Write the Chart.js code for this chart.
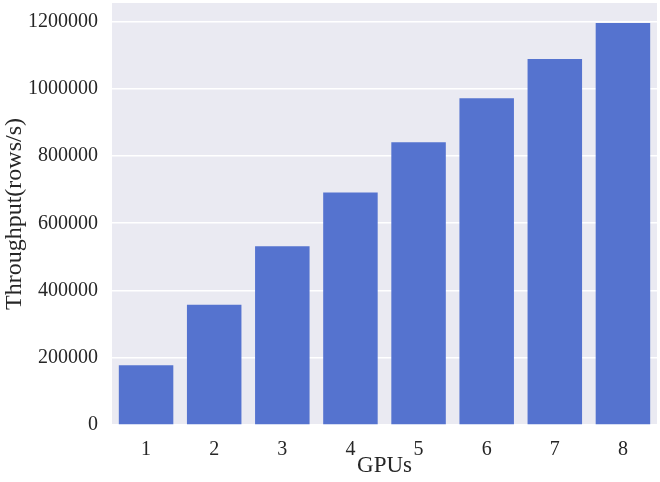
<!DOCTYPE html>
<html>
<head>
<meta charset="utf-8">
<script src="https://cdn.jsdelivr.net/npm/chart.js@4"></script>
<style>
  html, body { margin: 0; padding: 0; background: #fff; }
  #wrap { width: 660px; height: 482px; }
</style>
</head>
<body>
<div id="wrap"><canvas id="c" width="660" height="482"></canvas></div>
<script>
// data
const gpus = ["1", "2", "3", "4", "5", "6", "7", "8"];
const throughput = [178000, 357500, 532000, 691500, 841000, 972000, 1088500, 1195500];
const yTicks = [0, 200000, 400000, 600000, 800000, 1000000, 1200000];

const FONT = "'Liberation Serif', 'DejaVu Serif', serif";

// paint the seaborn grey panel behind the bars
const panelBg = {
  id: "panelBg",
  beforeDraw(chart) {
    const { ctx, chartArea: a } = chart;
    ctx.save();
    ctx.fillStyle = "#EAEAF2";
    ctx.fillRect(a.left, a.top, a.right - a.left, a.bottom - a.top);
    ctx.restore();
  }
};

new Chart(document.getElementById("c"), {
  type: "bar",
  data: {
    labels: gpus,
    datasets: [{
      data: throughput,
      backgroundColor: "#5573CF",
      borderWidth: 0,
      barPercentage: 0.8,
      categoryPercentage: 1.0
    }]
  },
  options: {
    responsive: false,
    animation: false,
    layout: { padding: { top: 3, right: 3, left: 0, bottom: 0 } },
    plugins: { legend: { display: false }, tooltip: { enabled: false } },
    scales: {
      x: {
        offset: true,
        grid: { display: false },
        border: { display: false },
        ticks: { color: "#262626", font: { family: FONT, size: 20 }, padding: 5 },
        title: { display: true, text: "GPUs", color: "#262626", font: { family: FONT, size: 23 }, padding: { top: 0, bottom: 2 } },
        afterFit(s) { s.height = 57; s.paddingLeft = 0; s.paddingRight = 0; }
      },
      y: {
        min: 0,
        max: Math.max(...throughput) * 1.05,
        afterBuildTicks(s) { s.ticks = yTicks.map(v => ({ value: v })); },
        grid: { color: "#ffffff", lineWidth: 1.6, drawTicks: false },
        border: { display: false },
        ticks: {
          color: "#262626",
          font: { family: FONT, size: 20 },
          padding: 14,
          callback: v => String(v)
        },
        title: { display: true, text: "Throughput(rows/s)", color: "#262626", font: { family: FONT, size: 24 }, padding: { top: 0, bottom: 2 } },
        afterFit(s) { s.width = 112; s.paddingTop = 0; s.paddingBottom = 0; }
      }
    }
  },
  plugins: [panelBg]
});
</script>
</body>
</html>
